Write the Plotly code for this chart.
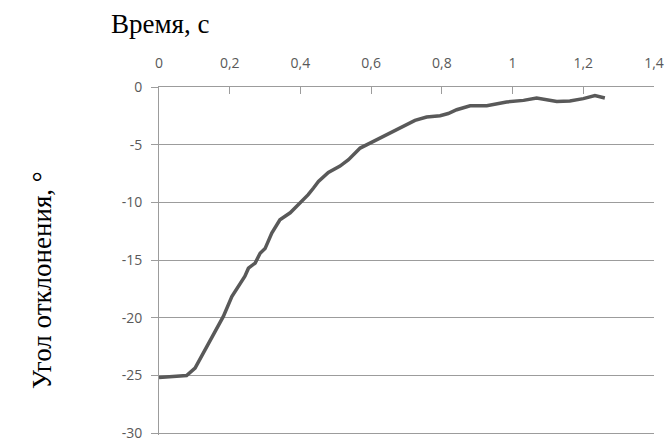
import plotly.graph_objects as go

# Time, s
t = [0.0, 0.04, 0.078, 0.102, 0.130, 0.158, 0.182, 0.206, 0.225, 0.243, 0.253, 0.272,
     0.286, 0.300, 0.319, 0.342, 0.371, 0.399, 0.422, 0.437, 0.451, 0.479, 0.512,
     0.536, 0.569, 0.601, 0.644, 0.691, 0.724, 0.757, 0.795, 0.818, 0.842, 0.880,
     0.927, 0.983, 1.031, 1.068, 1.097, 1.125, 1.162, 1.200, 1.233, 1.261]
# Deflection angle, degrees
angle = [-25.17, -25.1, -25.0, -24.35, -22.76, -21.3, -19.88, -18.15, -17.2, -16.4, -15.7, -15.25,
         -14.4, -14.0, -12.65, -11.5, -10.9, -10.05, -9.33, -8.75, -8.18, -7.4, -6.85,
         -6.3, -5.29, -4.8, -4.13, -3.41, -2.89, -2.6, -2.49, -2.3, -1.97, -1.62,
         -1.62, -1.3, -1.16, -0.95, -1.1, -1.25, -1.21, -1.01, -0.75, -0.95]

x_ticks = [0, 0.2, 0.4, 0.6, 0.8, 1.0, 1.2, 1.4]
x_ticktext = ["0", "0,2", "0,4", "0,6", "0,8", "1", "1,2", "1,4"]
y_ticks = [0, -5, -10, -15, -20, -25, -30]
y_ticktext = ["0", "-5", "-10", "-15", "-20", "-25", "-30"]

tick_font = dict(family="Open Sans, DejaVu Sans, sans-serif", size=14, color="#595959")
title_font = dict(family="Liberation Serif, Times New Roman, serif", size=27, color="black")

fig = go.Figure()
fig.add_trace(go.Scatter(x=t, y=angle, mode="lines",
                         line=dict(color="#595959", width=3.5), showlegend=False))

fig.update_layout(
    width=668, height=441,
    margin=dict(l=159, r=14, t=87, b=6, autoexpand=False),
    paper_bgcolor="white", plot_bgcolor="white",
    xaxis=dict(range=[0, 1.4], side="top", tickvals=x_ticks, ticktext=x_ticktext,
               ticks="inside", ticklen=7, tickcolor="#9c9c9c", automargin=False,
               showgrid=False, zeroline=False, showline=True, linecolor="#9c9c9c",
               linewidth=1, tickfont=tick_font, ticklabelstandoff=12),
    yaxis=dict(range=[-30.15, 0], tickvals=y_ticks, ticktext=y_ticktext,
               ticks="outside", ticklen=7, tickcolor="#9c9c9c", automargin=False,
               showgrid=True, gridcolor="#9c9c9c", gridwidth=1,
               zeroline=False, showline=True, linecolor="#9c9c9c", linewidth=1,
               tickfont=tick_font, ticklabelstandoff=6, ticklabeloverflow="allow"),
    annotations=[
        dict(text="Время, с", xref="paper", yref="paper", x=(109 - 159) / 495,
             y=1 + (87 - 24) / 348,
             xanchor="left", yanchor="middle", showarrow=False, font=title_font),
        dict(text="Угол отклонения, °", xref="paper", yref="paper", x=(42 - 159) / 495,
             y=(435 - 280) / 348, xanchor="center", yanchor="middle", showarrow=False,
             textangle=-90, font=title_font),
    ],
)

fig.write_html("out.html", config={"displayModeBar": False},
               post_script="document.body.style.margin='0';document.body.style.padding='0';")
